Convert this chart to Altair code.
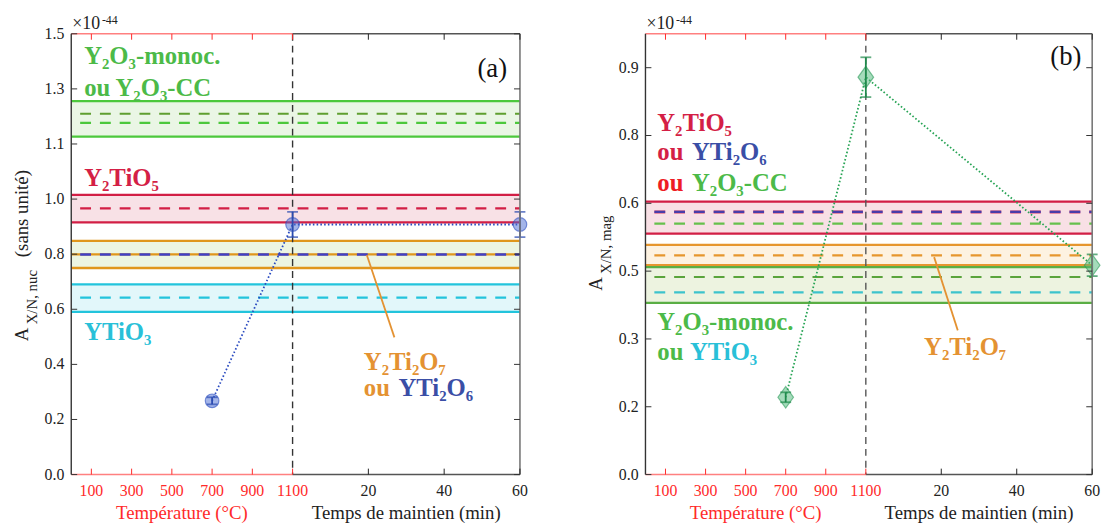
import altair as alt
import pandas as pd

FONT = "Liberation Serif"

# ---------------- shared x layout: temperature (°C) then holding time (min) ----------------
T_END = 1100            # last temperature on the axis (= start of the holding time)
X_MAX = 2230            # position of 60 min on the shared axis
MIN_END = 60
K = (X_MAX - T_END) / MIN_END

x_temp_ticks = [100, 300, 500, 700, 900, 1100]
x_time_ticks = [20, 40, 60]

# ---------------- y ticks ----------------
ya_ticks = [0, 0.1875, 0.375, 0.5625, 0.75, 0.9375, 1.125, 1.3125, 1.5]
ya_labels = ["0.0", "0.2", "0.4", "0.6", "0.8", "1.0", "1.1", "1.3", "1.5"]
yb_ticks = [0, 0.15, 0.3, 0.45, 0.6, 0.75, 0.9]
yb_labels = ["0.0", "0.2", "0.3", "0.5", "0.6", "0.8", "0.9"]

# ---------------- panel (a): A_X/N, nuc ----------------
a_temp = [700, 1100, 1100]
a_time = [0, 0, 60]
a_val = [0.251, 0.851, 0.851]
a_err = [0.012, 0.043, 0.043]

a_band_low = [1.150, 0.858, 0.703, 0.554]
a_band_high = [1.271, 0.952, 0.795, 0.647]
a_dash_val = [1.228, 1.197, 0.906, 0.749, 0.602]
a_solid_val = [0.749]

# ---------------- panel (b): A_X/N, mag ----------------
b_temp = [700, 1100, 1100]
b_time = [0, 0, 60]
b_val = [0.171, 0.879, 0.463]
b_err = [0.011, 0.044, 0.024]

b_band_low = [0.533, 0.463, 0.380]
b_band_high = [0.604, 0.508, 0.459]
b_dash_val = [0.581, 0.581, 0.555, 0.485, 0.437, 0.403]

# ---------------- styles ----------------
GREEN, RED, ORANGE, CYAN, BLUE = "#4cc83c", "#d21e45", "#e0961c", "#22c4dc", "#4040c8"
a_band_edge = [GREEN, RED, ORANGE, CYAN]
a_band_fill = ["#eaf6e5", "#f8e1e6", "#ecf5e2", "#e2f7fa"]
a_dash_color = ["#5f9f2f", GREEN, RED, BLUE, CYAN]
a_dash_width = [2.2, 2.2, 2.2, 2.4, 2.2]
a_solid_color = [ORANGE]

B_ORANGE, B_GREEN = "#e6962e", "#5aae44"
b_band_edge = [RED, B_ORANGE, B_GREEN]
b_band_fill = ["#f8e0e5", "#fdf2e1", "#edf3e0"]
b_dash_color = ["#e07090", "#4a3ca8", "#66c04c", B_ORANGE, "#5aa43c", "#3cc3cc"]
b_dash_width = [3.6, 2.4, 2.2, 2.2, 2.2, 2.2]

TXT_GREEN, TXT_RED, TXT_CYAN, TXT_ORANGE, TXT_BLUE = "#4cba48", "#d41f46", "#29c0d8", "#e49232", "#3a4ea6"
AX_RED = "#ff2a2a"

a_texts = pd.DataFrame({
    "t": ["Y₂O₃-monoc.", "ou Y₂O₃-CC", "Y₂TiO₅", "YTiO₃", "Y₂Ti₂O₇", "ou", "YTi₂O₆"],
    "u": [64, 64, 64, 64, 1454, 1454, 1626],
    "v": [1.396, 1.288, 0.982, 0.457, 0.357, 0.269, 0.269],
    "c": [TXT_GREEN, TXT_GREEN, TXT_RED, TXT_CYAN, TXT_ORANGE, TXT_ORANGE, TXT_BLUE],
})
b_texts = pd.DataFrame({
    "t": ["Y₂TiO₅", "ou", "YTi₂O₆", "ou", "Y₂O₃-CC", "Y₂O₃-monoc.", "ou", "YTiO₃", "Y₂Ti₂O₇"],
    "u": [59, 59, 232, 59, 232, 59, 59, 222, 1391],
    "v": [0.761, 0.695, 0.695, 0.627, 0.627, 0.319, 0.254, 0.254, 0.265],
    "c": [TXT_RED, TXT_RED, TXT_BLUE, "#ee1c25", TXT_GREEN, TXT_GREEN, TXT_GREEN, TXT_CYAN, TXT_ORANGE],
})
a_pointer = pd.DataFrame({"u1": [1469], "v1": [0.747], "u2": [1606], "v2": [0.467]})
b_pointer = pd.DataFrame({"u1": [1441], "v1": [0.481], "u2": [1559], "v2": [0.319]})

H = 446
ONE = pd.DataFrame({"k": [0]})


def pos(temps, times):
    return [t + m * K for t, m in zip(temps, times)]


def txt(text, x, y, size, color="#222", angle=0, align="left", baseline="alphabetic", weight="normal"):
    return alt.Chart(ONE).mark_text(
        text=text, font=FONT, fontSize=size, color=color, angle=angle,
        align=align, baseline=baseline, fontWeight=weight
    ).encode(x=alt.value(x), y=alt.value(y))


def panel(W, ymax, yt, yl, band_low, band_high, band_edge, band_fill,
          dash_val, dash_color, dash_width, solid_val, solid_color,
          temps, times, vals, errs, shape, msize, mfill, mstroke, ecolor, lcolor,
          texts, pointer, tag, tag_u, tag_v, sub, extra_title, vline_color):
    xs = alt.Scale(domain=[0, X_MAX], nice=False, zero=False)
    ys = alt.Scale(domain=[0, ymax], nice=False, zero=False)

    def X(f):
        return alt.X(f, type="quantitative", scale=xs, axis=None)

    def Y(f):
        return alt.Y(f, type="quantitative", scale=ys, axis=None)

    layers = []
    bands = pd.DataFrame({"low": band_low, "high": band_high, "fill": band_fill})
    layers.append(alt.Chart(bands).mark_rect().encode(
        x=alt.value(0), x2=alt.value(W), y=Y("low"), y2=alt.Y2("high"),
        color=alt.Color("fill:N", scale=None)))
    edges = pd.DataFrame({"v": band_low + band_high, "c": band_edge + band_edge})
    layers.append(alt.Chart(edges).mark_rule(strokeWidth=2.3).encode(
        x=alt.value(0), x2=alt.value(W), y=Y("v"), color=alt.Color("c:N", scale=None)))
    if solid_val:
        sol = pd.DataFrame({"v": solid_val, "c": solid_color})
        layers.append(alt.Chart(sol).mark_rule(strokeWidth=2.3).encode(
            x=alt.value(0), x2=alt.value(W), y=Y("v"), color=alt.Color("c:N", scale=None)))
    for v, c, w in zip(dash_val, dash_color, dash_width):
        d = pd.DataFrame({"v": [v]})
        layers.append(alt.Chart(d).mark_rule(
            strokeWidth=w, color=c, strokeDash=[11, 9], strokeDashOffset=11, strokeCap="butt"
        ).encode(x=alt.value(0), x2=alt.value(W), y=Y("v")))

    # vertical separator at the end of the temperature ramp
    layers.append(alt.Chart(ONE).mark_rule(color=vline_color, strokeWidth=1.4, strokeDash=[7, 5]).encode(
        x=alt.X(datum=T_END, type="quantitative", scale=xs, axis=None), y=alt.value(0), y2=alt.value(H)))

    pts = pd.DataFrame({"u": pos(temps, times), "val": vals,
                        "lo": [v - e for v, e in zip(vals, errs)],
                        "hi": [v + e for v, e in zip(vals, errs)],
                        "i": list(range(len(vals)))})
    layers.append(alt.Chart(pts).mark_line(color=lcolor, strokeWidth=1.8, strokeDash=[1.6, 2.2]).encode(
        x=X("u"), y=Y("val"), order="i:Q"))
    layers.append(alt.Chart(pts).mark_point(
        shape=shape, size=msize, filled=True, fill=mfill, fillOpacity=0.5,
        stroke=mstroke, strokeOpacity=0.6, strokeWidth=1.2, opacity=1
    ).encode(x=X("u"), y=Y("val")))
    layers.append(alt.Chart(pts).mark_rule(color=ecolor, strokeWidth=1.8).encode(
        x=X("u"), y=Y("lo"), y2=alt.Y2("hi")))
    caps = pd.DataFrame({"u": pts["u"].tolist() * 2, "v": pts["lo"].tolist() + pts["hi"].tolist()})
    layers.append(alt.Chart(caps).mark_tick(orient="horizontal", size=11, thickness=1.8, color=ecolor).encode(
        x=X("u"), y=Y("v")))

    # annotations
    layers.append(alt.Chart(pointer).mark_rule(color=TXT_ORANGE, strokeWidth=1.8).encode(
        x=X("u1"), x2="u2", y=Y("v1"), y2="v2"))
    layers.append(alt.Chart(texts).mark_text(
        font=FONT, fontSize=25, fontWeight="bold", align="left", baseline="alphabetic").encode(
        x=X("u"), y=Y("v"), text="t:N", color=alt.Color("c:N", scale=None)))
    tagdf = pd.DataFrame({"u": [tag_u], "v": [tag_v], "t": [tag]})
    layers.append(alt.Chart(tagdf).mark_text(
        font=FONT, fontSize=27, align="right", baseline="alphabetic", color="#111").encode(
        x=X("u"), y=Y("v"), text="t:N"))

    # frame: red temperature segment, dark time segment
    seg = pd.DataFrame({"a": [0, T_END], "b": [T_END, X_MAX], "c": ["#ff8080", "#555555"]})
    for yy in (0, H):
        layers.append(alt.Chart(seg).mark_rule(strokeWidth=1.6).encode(
            x=X("a"), x2="b", y=alt.value(yy), color=alt.Color("c:N", scale=None)))
    layers.append(alt.Chart(ONE).mark_rule(color="#333", strokeWidth=1.4).encode(
        x=alt.value(0), y=alt.value(0), y2=alt.value(H)))
    layers.append(alt.Chart(ONE).mark_rule(color="#777", strokeWidth=1.6).encode(
        x=alt.value(W), y=alt.value(0), y2=alt.value(H)))

    # ticks (inward) and tick labels
    x_vals = x_temp_ticks + [T_END + m * K for m in x_time_ticks]
    x_labs = [str(v) for v in x_temp_ticks] + [str(v) for v in x_time_ticks]
    x_cols = [AX_RED] * len(x_temp_ticks) + ["#222"] * len(x_time_ticks)
    xt = pd.DataFrame({"u": x_vals, "c": x_cols, "t": x_labs})
    layers.append(alt.Chart(xt).mark_rule(strokeWidth=1).encode(
        x=X("u"), y=alt.value(H - 6), y2=alt.value(H), color=alt.Color("c:N", scale=None)))
    layers.append(alt.Chart(xt).mark_rule(strokeWidth=1).encode(
        x=X("u"), y=alt.value(0), y2=alt.value(6), color=alt.Color("c:N", scale=None)))
    layers.append(alt.Chart(xt).mark_text(font=FONT, fontSize=16, align="center", baseline="top").encode(
        x=X("u"), y=alt.value(H + 9), text="t:N", color=alt.Color("c:N", scale=None)))
    ytd = pd.DataFrame({"v": yt, "t": yl})
    layers.append(alt.Chart(ytd).mark_rule(strokeWidth=1, color="#333").encode(
        y=Y("v"), x=alt.value(0), x2=alt.value(6)))
    layers.append(alt.Chart(ytd).mark_rule(strokeWidth=1, color="#333").encode(
        y=Y("v"), x=alt.value(W - 6), x2=alt.value(W)))
    layers.append(alt.Chart(ytd).mark_text(font=FONT, fontSize=16, align="right", baseline="middle",
                                           color="#222").encode(
        y=Y("v"), x=alt.value(-7), text="t:N"))

    # axis titles and exponent
    mid_temp = T_END / 2
    mid_time = T_END + (MIN_END / 2) * K
    xtitles = pd.DataFrame({"u": [mid_temp, mid_time], "t": ["Température (°C)", "Temps de maintien (min)"],
                            "c": [AX_RED, "#222"]})
    layers.append(alt.Chart(xtitles).mark_text(
        font=FONT, fontSize=19, align="center", baseline="alphabetic").encode(
        x=X("u"), y=alt.value(H + 45), text="t:N", color=alt.Color("c:N", scale=None)))
    layers.append(txt("×10", 1, -5, 18))
    layers.append(txt("-44", 31, -10, 12))
    a_bottom = 311 if extra_title else 260
    layers.append(txt("A", -50, a_bottom, 19, angle=270, baseline="middle"))
    layers.append(txt(sub, -40, a_bottom - 17, 15, angle=270, baseline="middle"))
    if extra_title:
        layers.append(txt(extra_title, -50, 226, 19, angle=270, baseline="middle"))

    return alt.layer(*layers).properties(width=W, height=H)


pa = panel(454, 1.5, ya_ticks, ya_labels, a_band_low, a_band_high, a_band_edge, a_band_fill,
           a_dash_val, a_dash_color, a_dash_width, a_solid_val, a_solid_color,
           a_temp, a_time, a_val, a_err, "circle", 190, "#4a6cd4", "#2c4fc0", "#2b4bb0", "#2b4bc0",
           a_texts, a_pointer, "(a)", 2166, 1.352, "X/N, nuc", "(sans unité)", "#333")

pb = panel(452, 0.975, yb_ticks, yb_labels, b_band_low, b_band_high, b_band_edge, b_band_fill,
           b_dash_val, b_dash_color, b_dash_width, [], [],
           b_temp, b_time, b_val, b_err, "M-0.72,0L0,-1L0.72,0L0,1Z", 480, "#4cb878", "#2a9a58",
           "#1f8a4c", "#26a354",
           b_texts, b_pointer, "(b)", 2176, 0.905, "X/N, mag", None, "#555")

chart = alt.hconcat(pa, pb, spacing=127, bounds="flush").configure_view(stroke=None).properties(
    padding={"left": 5, "top": 3, "right": 5, "bottom": 5})

chart.save("out.html", embed_options={"renderer": "svg", "actions": False})
